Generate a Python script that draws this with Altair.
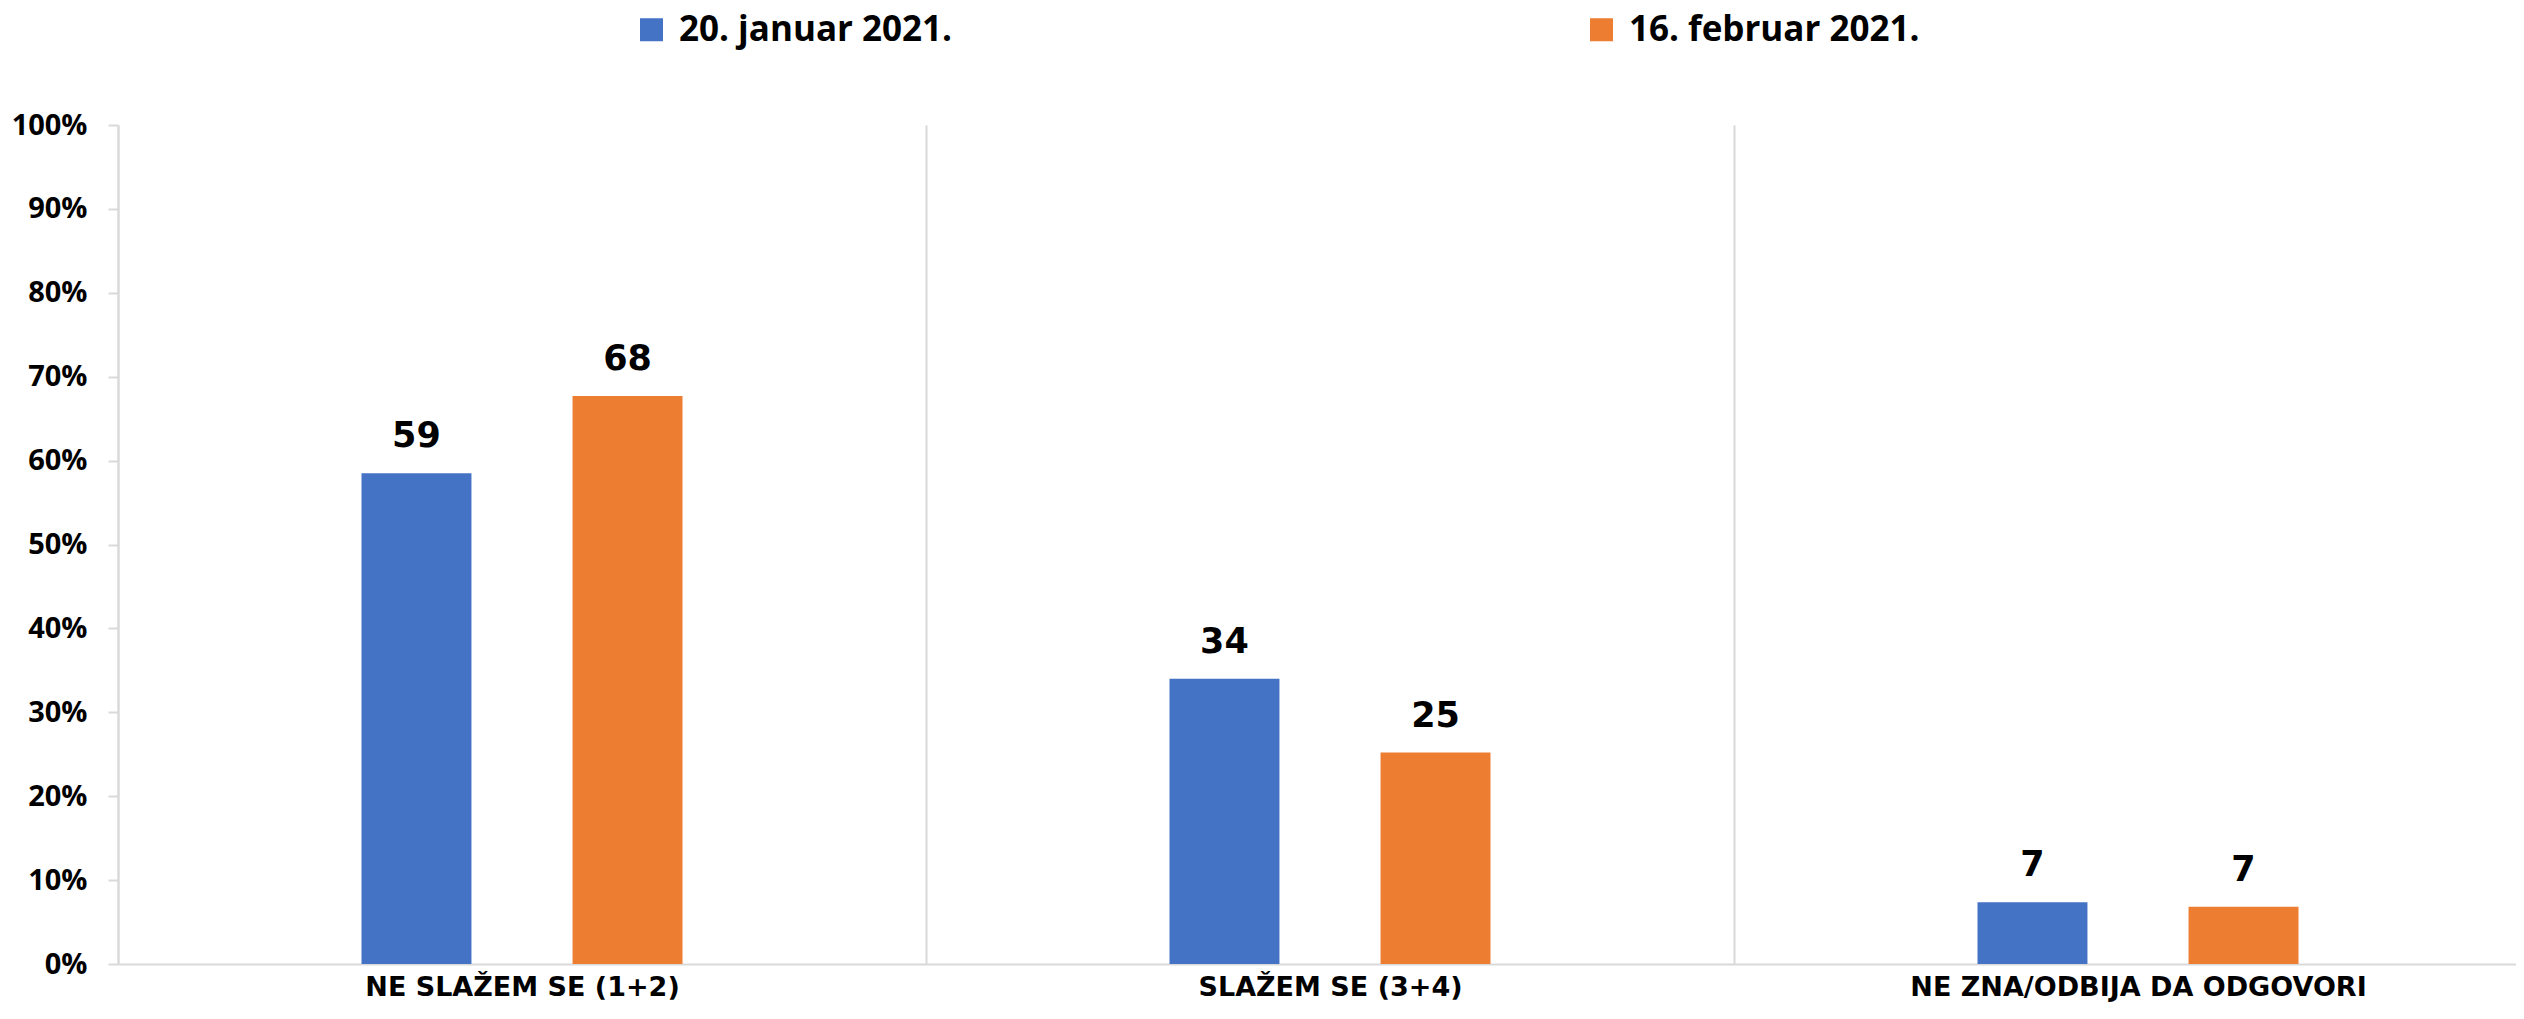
import altair as alt
import pandas as pd

categories = ["NE SLAŽEM SE (1+2)", "SLAŽEM SE (3+4)", "NE ZNA/ODBIJA DA ODGOVORI"]
series = ["20. januar 2021.", "16. februar 2021."]
values_jan = [58.5, 34.0, 7.35]
values_feb = [67.7, 25.2, 6.83]
labels_jan = ["59", "34", "7"]
labels_feb = ["68", "25", "7"]
colors = ["#4472C4", "#ED7D31"]
y_ticks = [0, 10, 20, 30, 40, 50, 60, 70, 80, 90, 100]

rows = []
for i, c in enumerate(categories):
    rows.append({"cat": c, "series": series[0], "value": values_jan[i], "label": labels_jan[i]})
    rows.append({"cat": c, "series": series[1], "value": values_feb[i], "label": labels_feb[i]})
df = pd.DataFrame(rows)

BAND = 808
GRAY = "#d9d9d9"

x_enc = alt.X(
    "cat:N",
    sort=categories,
    scale=alt.Scale(range=[0, 3 * BAND], paddingInner=0, paddingOuter=0),
    axis=alt.Axis(
        title=None, labelAngle=0, labelFont="DejaVu Sans", labelFontWeight="bold",
        labelFontSize=27, labelColor="black", labelPadding=10, ticks=False,
        domainColor=GRAY, domainWidth=2, grid=True, gridColor=GRAY, gridWidth=2,
        tickBand="extent", labelLimit=1000,
    ),
)
y_enc = alt.Y(
    "value:Q",
    scale=alt.Scale(domain=[0, 100], nice=False),
    axis=alt.Axis(
        title=None, values=y_ticks, labelExpr="datum.value + '%'",
        labelFont="Open Sans", labelFontWeight="bold", labelFontSize=29,
        labelColor="black", labelPadding=21, tickSize=10, tickColor=GRAY,
        tickWidth=2, domainColor=GRAY, domainWidth=2, grid=False,
    ),
)
xo_enc = alt.XOffset("series:N", sort=series,
                     scale=alt.Scale(range=[243.5, 564.5], paddingInner=0.479, paddingOuter=0))

bars = alt.Chart(df).mark_bar().encode(
    x=x_enc,
    xOffset=xo_enc,
    y=y_enc,
    color=alt.Color(
        "series:N", sort=series,
        scale=alt.Scale(domain=series, range=colors),
        legend=alt.Legend(
            title=None, orient="none", legendX=516, legendY=-113,
            direction="horizontal", symbolType="square", symbolSize=529,
            symbolStrokeWidth=0, symbolOpacity=1, labelFont="Open Sans",
            labelFontWeight="bold", labelFontSize=35, labelColor="black",
            labelOffset=10, columnPadding=631, padding=0, labelLimit=1000,
        ),
    ),
)

texts = alt.Chart(df).mark_text(
    font="DejaVu Sans", fontWeight="bold", fontSize=35, color="black",
    baseline="alphabetic", dy=-26,
).encode(
    x=x_enc,
    xOffset=xo_enc,
    y=y_enc,
    text="label:N",
)

chart = alt.layer(bars, texts).properties(
    width=2398,
    height=839,
    autosize=alt.AutoSizeParams(type="none"),
    padding={"left": 110, "top": 117, "right": 0, "bottom": 42},
).configure_view(stroke=None)

chart.save("out.html", embed_options={"renderer": "svg", "actions": False})
